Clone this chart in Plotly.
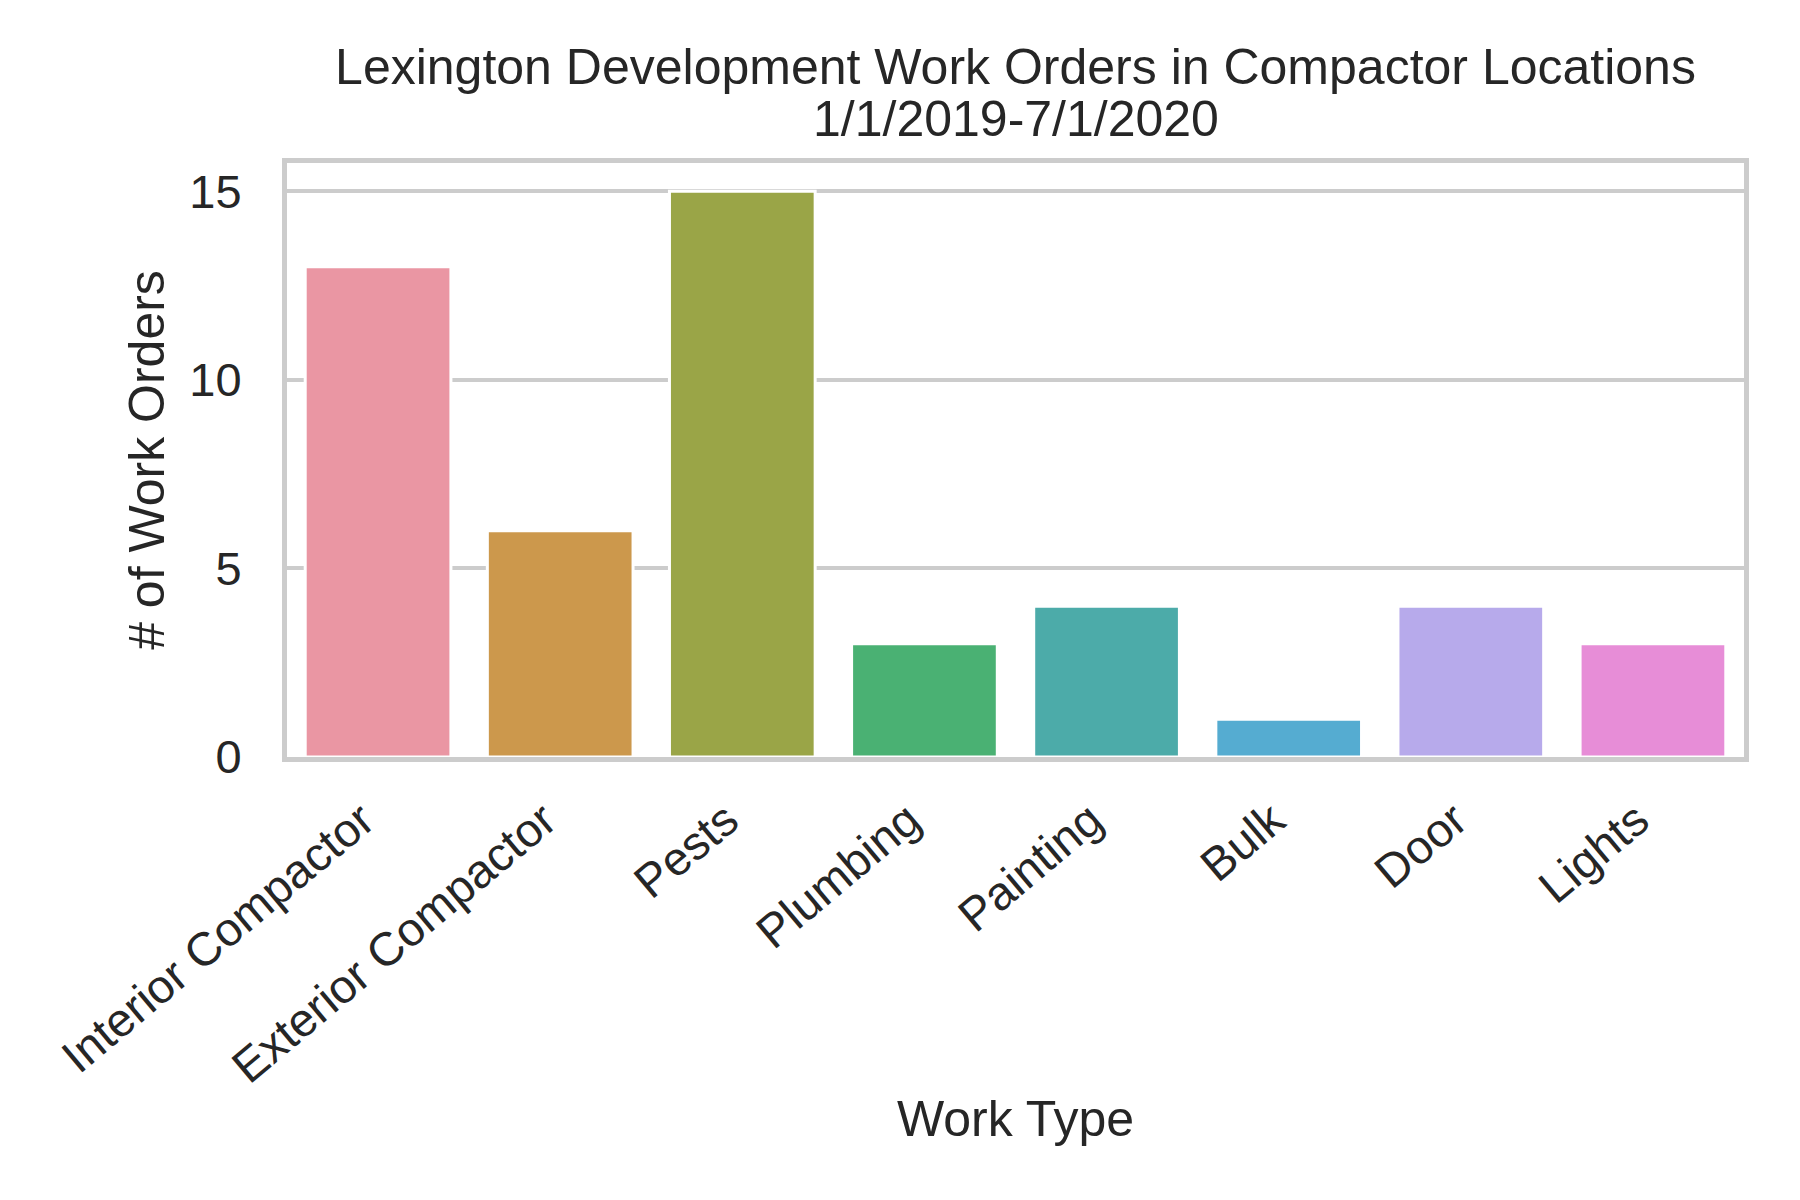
import plotly.graph_objects as go

work_types = ["Interior Compactor", "Exterior Compactor", "Pests", "Plumbing",
              "Painting", "Bulk", "Door", "Lights"]
work_orders = [13, 6, 15, 3, 4, 1, 4, 3]
bar_colors = ["#EA96A3", "#CC984C", "#9AA547", "#4AB173",
              "#4CABA9", "#55ACD1", "#B7AAEB", "#E78DD7"]
y_ticks = [0, 5, 10, 15]

FONT = "Liberation Sans, Arial, sans-serif"
TEXT = "#262626"
GRID = "#cccccc"

# plot area in pixels (top/bottom) used to place the second title line
TOP, BOTTOM = 155, 749

fig = go.Figure(go.Bar(
    x=work_types,
    y=work_orders,
    width=0.8,
    marker=dict(color=bar_colors, line=dict(color="white", width=3)),
    showlegend=False,
))

fig.update_layout(
    width=1800,
    height=1200,
    paper_bgcolor="white",
    plot_bgcolor="white",
    margin=dict(l=279, r=64, t=TOP, b=1200 - BOTTOM),
    font=dict(family=FONT, color=TEXT, size=47),
    title=dict(
        text="Lexington Development Work Orders in Compactor Locations",
        font=dict(size=50, color=TEXT),
        x=0.5, xref="paper", xanchor="center",
        y=1 - 58 / 1200, yref="container", yanchor="middle",
        pad=dict(b=0, t=0),
    ),
    annotations=[dict(
        text="1/1/2019-7/1/2020",
        xref="paper", yref="paper", x=0.5,
        y=1 + (TOP - 111) / (BOTTOM - TOP),
        xanchor="center", yanchor="middle", showarrow=False,
        font=dict(size=50, color=TEXT),
    )],
    bargap=0.2,
)

fig.update_xaxes(
    type="category",
    range=[-0.5, 7.5],
    tickangle=-40,
    ticks="",
    ticklabelstandoff=12,
    ticklabelshift=-16,
    showgrid=False,
    showline=True, mirror=True, linecolor=GRID, linewidth=5,
    title=dict(text="Work Type", font=dict(size=50), standoff=11),
    tickfont=dict(size=47),
)

fig.update_yaxes(
    range=[0, 15.75],
    tickvals=y_ticks,
    ticks="",
    ticklabelstandoff=31,
    showgrid=True, gridcolor=GRID, gridwidth=4,
    zeroline=False,
    showline=True, mirror=True, linecolor=GRID, linewidth=5,
    title=dict(text="# of Work Orders", font=dict(size=50), standoff=10),
    tickfont=dict(size=47),
)

fig.write_html("out.html")
